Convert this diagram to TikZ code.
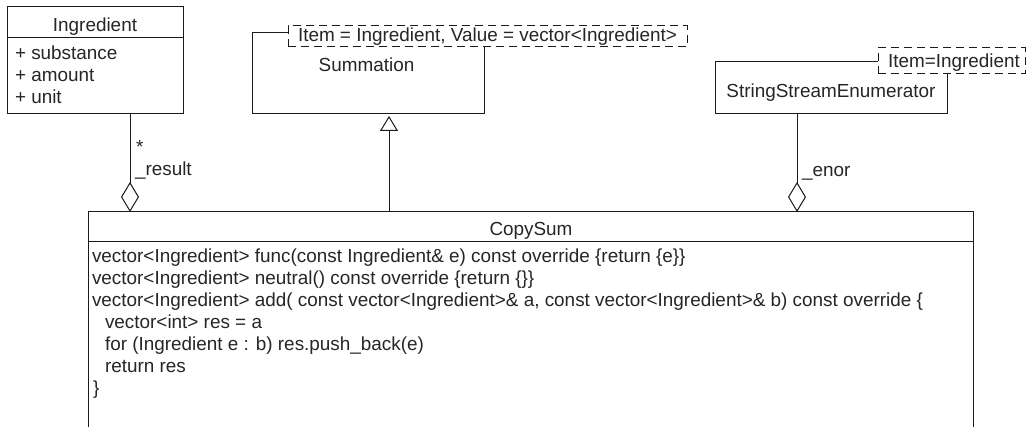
\documentclass[tikz,border=0pt]{standalone}
\usepackage{fontspec}
\setmainfont{Liberation Sans}
\usetikzlibrary{arrows.meta}
\definecolor{ln}{HTML}{1A1A1A}
\definecolor{txt}{HTML}{262626}
\begin{document}
\begin{tikzpicture}[x=1pt,y=-1pt,
  every node/.style={font=\fontsize{18.9}{22}\selectfont, text=txt, inner sep=0pt, outer sep=0pt},
  cbox/.style={draw=ln, line width=1pt, fill=white, rectangle, inner sep=0pt, anchor=north west},
  tbox/.style={draw=ln, line width=1pt, fill=white, rectangle, inner sep=0pt, anchor=north west, dash pattern=on 8pt off 5pt},
  lbl/.style={anchor=base west},
  ctr/.style={anchor=base},
  sep/.style={draw=ln, line width=1pt},
  aggr/.style={draw=ln, line width=1pt, -{Diamond[open, length=30pt, width=18pt, line width=1pt, fill=white]}},
  gen/.style={draw=ln, line width=1pt, shorten >=2pt, -{Triangle[open, length=15pt, width=18pt, line width=1pt, fill=white]}}
]
\fill[white] (0,0) rectangle (1031,427);
\useasboundingbox (0,0) rectangle (1031,427);

% Ingredient
\node[cbox, minimum width=176pt, minimum height=107pt] (ing) at (7,7) {};
\draw[sep] (ing.north west) ++(0,31) coordinate (ih) -- (ih -| ing.east);
\node[ctr] (ingname) at (95,32) {Ingredient};
\node[lbl] (ia1) at (15,60) {+ substance};
\node[lbl] (ia2) at (15,82) {+ amount};
\node[lbl] (ia3) at (15,104) {+ unit};

% Summation
\node[cbox, minimum width=232pt, minimum height=81pt] (sum) at (252,33) {};
\node[ctr] (sumname) at (366.5,72) {Summation};
\node[tbox, minimum width=399pt, minimum height=21pt] (sumt) at (288,26) {};
\node[lbl] (sumtt) at (298,42) {Item = Ingredient, Value = vector<Ingredient>};

% StringStreamEnumerator
\node[cbox, minimum width=232pt, minimum height=52pt] (sse) at (715,62) {};
\node[ctr] (ssename) at (831,98) {StringStreamEnumerator};
\node[tbox, minimum width=147pt, minimum height=26pt] (sset) at (878,48) {};
\node[lbl] (ssett) at (888,68) {Item=Ingredient};

% CopySum
\node[cbox, minimum width=885pt, minimum height=230pt] (cs) at (88,212) {};
\draw[sep] (cs.north west) ++(0,30) coordinate (ch) -- (ch -| cs.east);
\node[ctr] (csname) at (531,236) {CopySum};
\node[lbl] (b1) at (92,263) {vector<Ingredient> func(const Ingredient\& e) const override \{return \{e\}\}};
\node[lbl] (b2) at (92,285) {vector<Ingredient> neutral() const override \{return \{\}\}};
\node[lbl] (b3) at (92,307) {vector<Ingredient> add( const vector<Ingredient>\& a, const vector<Ingredient>\& b) const override \{};
\node[lbl] (b4) at (105,329) {vector<int> res = a};
\node[lbl] (b5) at (105,351) {for (Ingredient e : b) res.push\_back(e)};
\node[lbl] (b6) at (105,373) {return res};
\node[lbl] (b7) at (93,395) {\}};

% connectors
\coordinate (xa) at (130,0);
\coordinate (xg) at (389,0);
\coordinate (xe) at (797,0);
\draw[aggr] (ing.south -| xa) -- (cs.north -| xa);
\draw[gen] (cs.north -| xg) -- (sum.south -| xg);
\draw[aggr] (sse.south -| xe) -- (cs.north -| xe);

\node[lbl] (m1) at (136,154) {*};
\node[lbl] (r1) at (135,176) {\_result};
\node[lbl] (r2) at (802,177) {\_enor};
\end{tikzpicture}
\end{document}
